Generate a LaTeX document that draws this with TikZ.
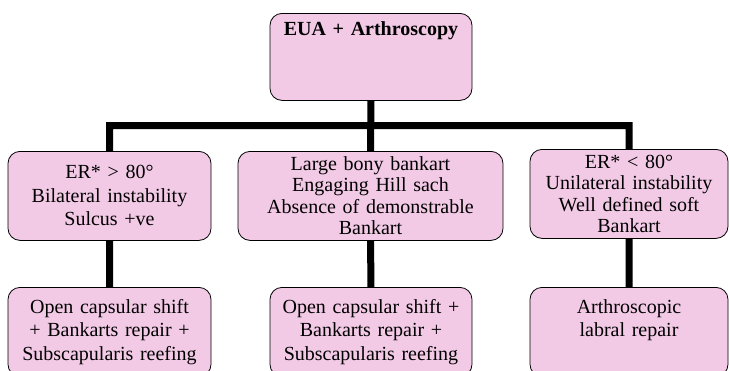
\documentclass[tikz,border=0pt]{standalone}
\usepackage{fontspec}
\setmainfont{Liberation Serif}
\definecolor{boxpink}{RGB}{243,202,230}
\newcommand{\boxfont}{\fontsize{20}{23.5}\selectfont}
\newcommand{\tightfont}{\fontsize{20}{21.5}\selectfont}
\newcommand{\fb}{\node[flowbox]}
\tikzset{
    flowbox/.style={draw, thick, rounded corners=12pt, fill=boxpink, anchor=north,
        align=center, inner xsep=3pt, inner ysep=3pt,
        minimum height=89pt, font=\boxfont},
    pinned/.style={text height=23pt, text depth=60pt},
    bar/.style={line width=7pt}
}

\begin{document}
\begin{tikzpicture}[x=1pt, y=-1pt]
        \useasboundingbox (0,0) rectangle (729,370);

        \fb[text width=196pt, minimum height=87pt, text height=19pt, text depth=62pt] (top) at (371,13) {\textbf{EUA + Arthroscopy}};
        \fb[text width=197pt] (ger) at (109.5,151) {ER* > 80°\\Bilateral instability\\Sulcus +ve};
        \fb[text width=259pt, font=\tightfont] (bony) at (370.5,151) {Large bony bankart\\Engaging Hill sach\\Absence of demonstrable\\Bankart};
        \fb[text width=192pt, font=\tightfont] (ler) at (629,149) {ER* < 80°\\Unilateral instability\\Well defined soft\\Bankart};
        \fb[text width=197pt, pinned] (open1) at (109.5,287) {Open capsular shift\\+ Bankarts repair +\\Subscapularis reefing};
        \fb[text width=196pt, pinned] (open2) at (371,287) {Open capsular shift +\\Bankarts repair +\\Subscapularis reefing};
        \fb[text width=192pt, pinned] (labral) at (629,287) {Arthroscopic\\labral repair};

        \coordinate (split) at (371,125.5);

        \draw[bar]
            (top.south) -- (bony.north)
            (ger.north) |- (split) -| (ler.north)
            (ger) -- (open1)
            (bony) -- (open2)
            (ler) -- (labral)
            ;
\end{tikzpicture}
\end{document}
